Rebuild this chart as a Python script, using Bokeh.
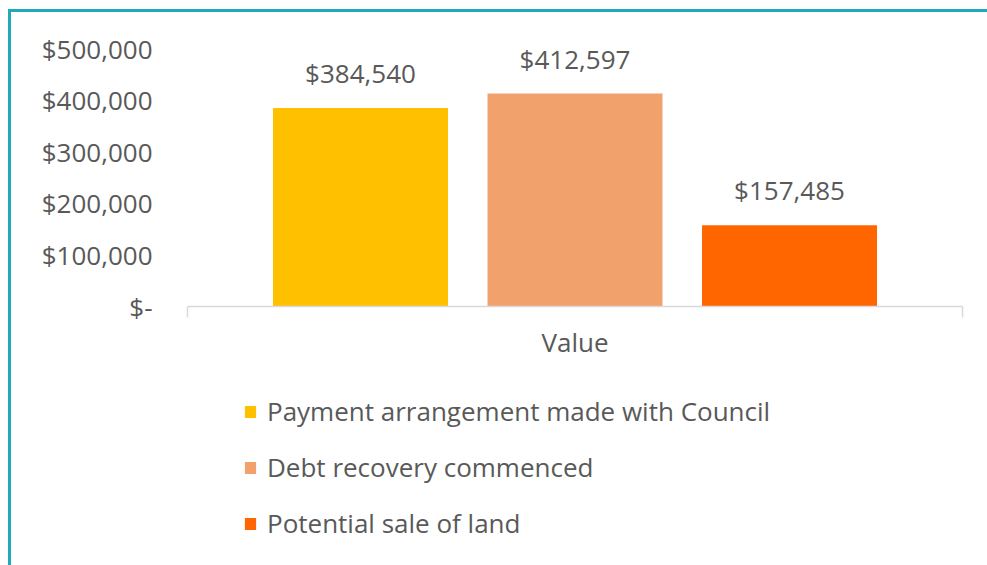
from bokeh.plotting import figure
from bokeh.layouts import column
from bokeh.models import (Range1d, FixedTicker, Legend, LegendItem, ColumnDataSource,
                          LinearAxis)
from bokeh.core.properties import value
from bokeh.embed import file_html
from bokeh.resources import INLINE

# ---- data ----
categories = ["Value"]
series = ["Payment arrangement made with Council", "Debt recovery commenced", "Potential sale of land"]
values = [384540, 412597, 157485]
colors = ["#FFC000", "#F1A16C", "#FF6600"]
y_ticks = [0, 100000, 200000, 300000, 400000, 500000]
y_tick_labels = ["$-", "$100,000", "$200,000", "$300,000", "$400,000", "$500,000"]

FONT = "Open Sans"
TXT = "#595959"
FS = "26px"

W = 976
H1 = 354
H2 = 199
p = figure(width=W, height=H1, output_backend="svg", toolbar_location=None,
           x_range=Range1d(0, 1), y_range=Range1d(0, 500000),
           min_border_left=176, min_border_right=25, min_border_top=36,
           min_border_bottom=60, x_axis_type=None, y_axis_type=None)
p.outline_line_color = None
p.xgrid.visible = False
p.ygrid.visible = False
p.background_fill_color = "white"
p.border_fill_color = "white"

# y axis
yax = LinearAxis(ticker=FixedTicker(ticks=y_ticks),
                 major_label_overrides={t: l for t, l in zip(y_ticks, y_tick_labels)})
yax.axis_line_color = None
yax.major_tick_line_color = None
yax.minor_tick_line_color = None
yax.major_tick_out = 0
yax.major_tick_in = 0
yax.major_label_standoff = 35
yax.major_label_text_font = FONT
yax.major_label_text_font_size = FS
yax.major_label_text_color = TXT
p.add_layout(yax, "left")

# x axis (single category)
xax = LinearAxis(ticker=FixedTicker(ticks=[0.5], minor_ticks=[0, 1]),
                 major_label_overrides={0.5: categories[0]})
xax.axis_line_color = "#D9D9D9"
xax.axis_line_width = 1.5
xax.major_tick_line_color = None
xax.major_tick_out = 0
xax.major_tick_in = 0
xax.minor_tick_line_color = "#D9D9D9"
xax.minor_tick_line_width = 1.5
xax.minor_tick_in = 0
xax.minor_tick_out = 11
xax.major_label_standoff = 6
xax.major_label_text_font = FONT
xax.major_label_text_font_size = FS
xax.major_label_text_color = TXT
p.add_layout(xax, "below")

# bars
n = len(series)
step = 0.2768
bar_w = 0.2258
for i, (name, v, c) in enumerate(zip(series, values, colors)):
    x = 0.5 + (i - (n - 1) / 2) * step
    src = ColumnDataSource(dict(x=[x], top=[v], lab=[f"${v:,}"]))
    p.vbar(x="x", top="top", width=bar_w, bottom=0, source=src,
           fill_color=c, line_color=None)
    p.text(x="x", y="top", text="lab", source=src, text_align="center",
           text_baseline="middle", y_offset=-35, text_font=value(FONT),
           text_font_size=FS, text_color=TXT)

# legend panel (legend proxies sit outside the visible range)
p2 = figure(width=W, height=H2, output_backend="svg", toolbar_location=None,
            x_axis_type=None, y_axis_type=None, min_border=0,
            x_range=Range1d(0, 1), y_range=Range1d(0, 1))
p2.outline_line_color = None
p2.xgrid.visible = False
p2.ygrid.visible = False
p2.border_fill_color = "white"
items = []
for name, c in zip(series, colors):
    r = p2.vbar(x=[-10], top=[-10], bottom=[-11], width=0.1, fill_color=c, line_color=None)
    items.append(LegendItem(label=name, renderers=[r]))

legend = Legend(items=items, location=(56, 24), orientation="vertical")
legend.padding = 0
legend.margin = 0
legend.border_line_color = None
legend.background_fill_alpha = 0
legend.glyph_width = 14
legend.glyph_height = 15
legend.label_standoff = 10
legend.label_height = 28
legend.spacing = 20
legend.label_text_font = FONT
legend.label_text_font_size = FS
legend.label_text_color = TXT
p2.add_layout(legend)

layout = column(p, p2, spacing=0)
layout.styles = {"border-top": "3px solid #1FA9B9", "border-left": "3px solid #1FA9B9",
                 "margin-left": "8px", "margin-top": "9px"}

open("out.html", "w").write(file_html(layout, INLINE))
